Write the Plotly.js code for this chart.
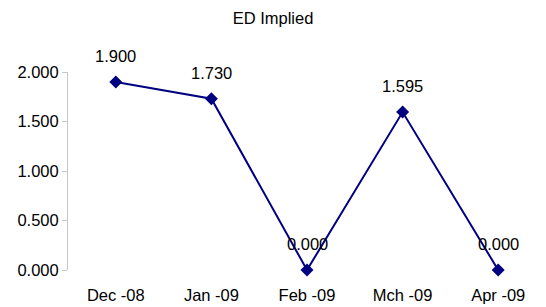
<!DOCTYPE html>
<html><head><meta charset="utf-8">
<script src="https://cdn.plot.ly/plotly-3.0.1.min.js"></script>
<style>html,body{margin:0;padding:0;background:#fff}#c{width:546px;height:307px}</style>
</head><body><div id="c"></div>
<script>
const categories = ["Dec -08", "Jan -09", "Feb -09", "Mch -09", "Apr -09"];
const values = [1.900, 1.730, 0.000, 1.595, 0.000];
const yTickVals = [0, 0.5, 1.0, 1.5, 2.0];
const yTickText = ["0.000", "0.500", "1.000", "1.500", "2.000"];

const font = {family: "Liberation Sans, Arial, sans-serif", size: 16.5, color: "#000"};
const trace = {
  x: categories, y: values, type: "scatter", mode: "lines+markers",
  line: {color: "#000080", width: 2},
  marker: {symbol: "diamond", size: 10, color: "#000080"},
  cliponaxis: false, hoverinfo: "none"
};
const annotations = categories.map((c, i) => ({
  x: c, y: values[i], xref: "x", yref: "y",
  text: values[i].toFixed(3), showarrow: false, yshift: 26,
  font: font
}));
const layout = {
  width: 546, height: 307,
  margin: {l: 68, r: 0, t: 72, b: 37},
  paper_bgcolor: "#fff", plot_bgcolor: "#fff",
  showlegend: false,
  title: {text: "ED Implied", font: {family: font.family, size: 16.5, color: "#000"}, x: 0.5, xanchor: "center", y: 0.94, yanchor: "middle"},
  font: font,
  xaxis: {
    type: "category", range: [-0.5, 4.5], showgrid: false, zeroline: false,
    showline: false, ticks: "", ticklabelstandoff: 13, tickfont: font, fixedrange: true
  },
  yaxis: {
    range: [0, 2], tickvals: yTickVals, ticktext: yTickText,
    showgrid: false, zeroline: false, showline: true, linecolor: "#c8c8c8", linewidth: 1,
    ticks: "outside", ticklen: 5, tickcolor: "#c8c8c8", tickfont: font, fixedrange: true
  },
  annotations: annotations
};
Plotly.newPlot("c", [trace], layout, {displayModeBar: false, staticPlot: true});
</script></body></html>
